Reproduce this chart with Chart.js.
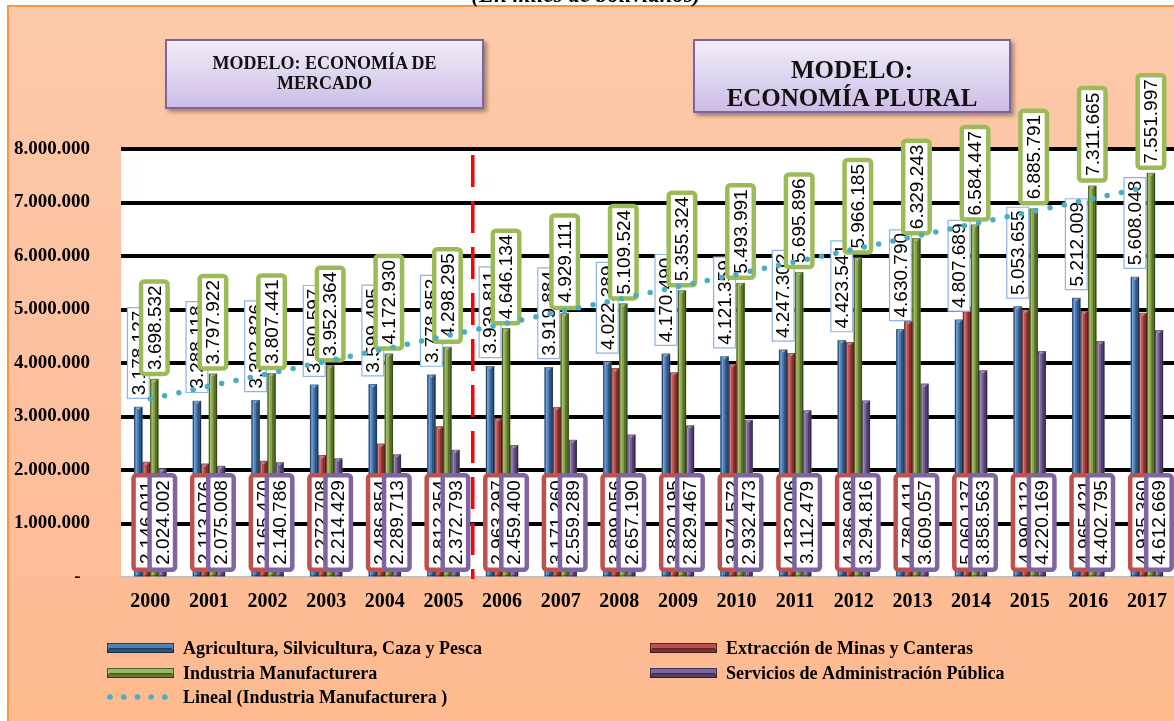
<!DOCTYPE html>
<html>
<head>
<meta charset="utf-8">
<script src="https://cdn.jsdelivr.net/npm/chart.js@4.4.1/dist/chart.umd.min.js"></script>
<style>
html,body{margin:0;padding:0;width:1174px;height:721px;overflow:hidden;background:#fff;}
#frame{position:absolute;left:7px;top:5px;width:1220px;height:760px;box-sizing:border-box;border:2px solid #F79646;background:linear-gradient(#FCCAAA,#FCC09F 50%,#FFB98C);}
#title{position:absolute;left:386px;top:-16px;width:400px;text-align:center;font:italic bold 23px/22px "Liberation Serif";color:#000;z-index:5;}
#wrap{position:absolute;left:0;top:0;width:1180px;height:721px;}
.box{position:absolute;box-sizing:border-box;border:2px solid #8064A2;background:linear-gradient(#F1EDF8,#CDBDE6);box-shadow:3px 3px 4px rgba(0,0,0,0.35);text-align:center;color:#111;font-family:"Liberation Serif";font-weight:bold;z-index:4;}
#b1{left:165px;top:39px;width:319px;height:70px;font-size:18px;line-height:20px;padding-top:12px;}
#b2{left:693px;top:39px;width:318px;height:74px;font-size:25px;line-height:27.7px;padding-top:15px;}
</style>
</head>
<body>
<div id="frame"></div>
<div id="title">(En miles de bolivianos)</div>
<div id="wrap"><canvas id="c" width="1180" height="721"></canvas></div>
<div class="box" id="b1">MODELO: ECONOMÍA DE<br>MERCADO</div>
<div class="box" id="b2">MODELO:<br>ECONOMÍA PLURAL</div>
<script>
const years = ['2000','2001','2002','2003','2004','2005','2006','2007','2008','2009','2010','2011','2012','2013','2014','2015','2016','2017'];
const agricultura = [3178127,3288118,3302826,3590597,3599495,3778852,3939811,3919884,4022389,4170490,4121359,4247302,4423541,4630790,4807689,5053655,5212009,5608048];
const mineria = [2146011,2113076,2165470,2272708,2486854,2812354,2963297,3171260,3899056,3820195,3974572,4182006,4386908,4780411,5060137,4990112,4965421,4935360];
const manufactura = [3698532,3797922,3807441,3952364,4172930,4298295,4646134,4929111,5109524,5355324,5493991,5695896,5966185,6329243,6584447,6885791,7311665,7551997];
const administracion = [2024002,2075008,2140786,2214429,2289713,2372793,2459400,2559289,2657190,2829467,2932473,3112479,3294816,3609057,3858563,4220169,4402795,4612669];
const tendencia = [3330000,3565000,3798000,4030000,4263000,4496000,4728000,4961000,5194000,5426000,5659000,5892000,6125000,6357000,6590000,6823000,7055000,7288000];
const seriesNames = ['Agricultura, Silvicultura, Caza y Pesca','Extracción de Minas y Canteras','Industria Manufacturera','Servicios de Administración Pública','Lineal (Industria Manufacturera )'];
const yMin = 0, yMax = 8000000, yStep = 1000000;

function fmt(v){ return String(Math.round(v)).replace(/\B(?=(\d{3})+(?!\d))/g,'.'); }

const barColors = ['#4A7EBB','#BE4B48','#86A744','#7A5F9E'];
const legendColors = ['#4F81BD','#C0504D','#9BBB59','#8064A2'];
const labelBorders = ['#8EB4E3','#C0504D','#9BBB59','#8064A2'];

function labelBox(ctx, cx, bottom, w, h, border, bw, text, radius){
  const top = bottom - h, left = cx - w/2;
  ctx.save();
  ctx.beginPath();
  if (ctx.roundRect) ctx.roundRect(left + bw/2, top + bw/2, w - bw, h - bw, radius); else ctx.rect(left + bw/2, top + bw/2, w - bw, h - bw);
  ctx.fillStyle = '#fff'; ctx.fill();
  ctx.lineWidth = bw; ctx.strokeStyle = border; ctx.stroke();
  ctx.translate(cx, top + h/2);
  ctx.rotate(-Math.PI/2);
  ctx.fillStyle = '#000';
  ctx.font = '19px "Liberation Sans"';
  ctx.textAlign = 'center';
  ctx.textBaseline = 'middle';
  ctx.fillText(text, 0, 1);
  ctx.restore();
}

const decor = {
  id: 'decor',
  beforeDraw(chart){
    const {ctx, chartArea:a} = chart;
    ctx.save(); ctx.fillStyle = '#fff';
    ctx.fillRect(a.left, a.top, a.right - a.left, a.bottom - a.top);
    ctx.restore();
  },
  afterDatasetDraw(chart, args){
    if (args.meta.type !== 'bar') return;
    const ctx = chart.ctx;
    ctx.save();
    args.meta.data.forEach(el => {
      const p = el.getProps(['x','y','base','width'], true);
      const l = p.x - p.width/2, r = p.x + p.width/2, t = p.y, b = p.base;
      ctx.fillStyle = 'rgba(0,0,0,0.32)';
      ctx.fillRect(p.x + 0.5, t, r - p.x - 0.5, b - t);
      ctx.fillStyle = 'rgba(255,255,255,0.28)';
      ctx.fillRect(l + 1, t + 2, 1.5, b - t - 2);
      ctx.strokeStyle = 'rgba(0,0,0,0.45)'; ctx.lineWidth = 1;
      ctx.strokeRect(l + 0.5, t + 0.5, p.width - 1, b - t - 1);
      ctx.beginPath(); ctx.moveTo(l, t); ctx.lineTo(r, t); ctx.lineTo(p.x, t + 3); ctx.closePath();
      ctx.fillStyle = 'rgba(255,255,255,0.35)'; ctx.fill();
    });
    ctx.restore();
  },
  beforeDatasetDraw(chart, args){
    if (args.meta.type !== 'line') return;
    const ctx = chart.ctx, a = chart.chartArea;
    const m = [0,1,2,3].map(i => chart.getDatasetMeta(i));
    const ds = chart.data.datasets;
    m[0].data.forEach((el, j) => labelBox(ctx, el.x, el.y - 8, 23, 92, labelBorders[0], 1.2, fmt(ds[0].data[j]), 0));
    m[2].data.forEach((el, j) => labelBox(ctx, el.x, el.y - 3, 31, 97, labelBorders[2], 4.5, fmt(ds[2].data[j]), 3));
    m[1].data.forEach((el, j) => labelBox(ctx, el.x, a.bottom - 5, 30, 99, labelBorders[1], 4.5, fmt(ds[1].data[j]), 3));
    m[3].data.forEach((el, j) => labelBox(ctx, el.x, a.bottom - 5, 30, 99, labelBorders[3], 4.5, fmt(ds[3].data[j]), 3));
    const xs = chart.scales.x;
    const xd = (xs.getPixelForValue(5) + xs.getPixelForValue(6)) / 2;
    ctx.save();
    ctx.strokeStyle = '#FF0000'; ctx.lineWidth = 3.5; ctx.setLineDash([32, 14]);
    ctx.beginPath(); ctx.moveTo(xd, a.top + 6); ctx.lineTo(xd, a.bottom + 2); ctx.stroke();
    ctx.restore();
  },
  afterDraw(chart){
    const ctx = chart.ctx;
    const ds = chart.data.datasets;
    const pos = [[107,648],[650,648],[107,673],[650,673],[107,697]];
    ctx.save();
    ctx.font = 'bold 18px "Liberation Serif"';
    ctx.textBaseline = 'alphabetic';
    ds.forEach((d, i) => {
      const [x, y] = pos[i];
      if (i < 4) {
        const c = legendColors[i];
        ctx.fillStyle = c; ctx.fillRect(x, y - 5, 67, 10);
        ctx.fillStyle = 'rgba(0,0,0,0.35)'; ctx.fillRect(x, y + 1, 67, 4);
        ctx.fillStyle = 'rgba(0,0,0,0.55)'; ctx.fillRect(x + 2, y, 63, 1.2);
        ctx.strokeStyle = 'rgba(0,0,0,0.5)'; ctx.lineWidth = 1; ctx.strokeRect(x + 0.5, y - 4.5, 66, 9);
      } else {
        ctx.fillStyle = '#4BACC6';
        for (let k = 0; k < 5; k++) { ctx.beginPath(); ctx.arc(x + 3 + k * 13.7, y, 2.8, 0, Math.PI * 2); ctx.fill(); }
      }
      ctx.fillStyle = '#000';
      ctx.fillText(d.label, x + 76, y + 6);
    });
    ctx.restore();
  }
};

new Chart(document.getElementById('c'), {
  type: 'bar',
  data: {
    labels: years,
    datasets: [
      {label: seriesNames[0], data: agricultura, backgroundColor: barColors[0], order: 1},
      {label: seriesNames[1], data: mineria, backgroundColor: barColors[1], order: 1},
      {label: seriesNames[2], data: manufactura, backgroundColor: barColors[2], order: 1},
      {label: seriesNames[3], data: administracion, backgroundColor: barColors[3], order: 1},
      {label: seriesNames[4], data: tendencia, type: 'line', borderColor: '#4BACC6', borderWidth: 5.5, borderDash: [0, 14.6], borderCapStyle: 'round', pointRadius: 0, fill: false, tension: 0, order: 0}
    ]
  },
  options: {
    responsive: false,
    animation: false,
    layout: {padding: {left: 0, right: 3, top: 149, bottom: 94}},
    datasets: {bar: {barThickness: 8, categoryPercentage: 0.73}},
    plugins: {legend: {display: false}, tooltip: {enabled: false}},
    scales: {
      x: {
        grid: {display: false, drawTicks: false},
        border: {display: false},
        ticks: {font: {family: 'Liberation Serif', size: 20, weight: 'bold'}, color: '#000', padding: 13, maxRotation: 0, autoSkip: false},
        afterFit(s){ s.height = 50; }
      },
      y: {
        min: yMin, max: yMax,
        border: {display: false},
        grid: {drawTicks: false, color: c => c.tick && c.tick.value === 0 ? '#BFBFBF' : '#000', lineWidth: c => c.tick && c.tick.value === 0 ? 1.5 : 4},
        ticks: {stepSize: yStep, font: {family: 'Liberation Serif', size: 19, weight: 'bold'}, color: '#000', padding: 31,
          callback: v => v === 0 ? '-  ' : fmt(v)},
        afterFit(s){ s.width = 121; }
      }
    }
  },
  plugins: [decor]
});
</script>
</body>
</html>
